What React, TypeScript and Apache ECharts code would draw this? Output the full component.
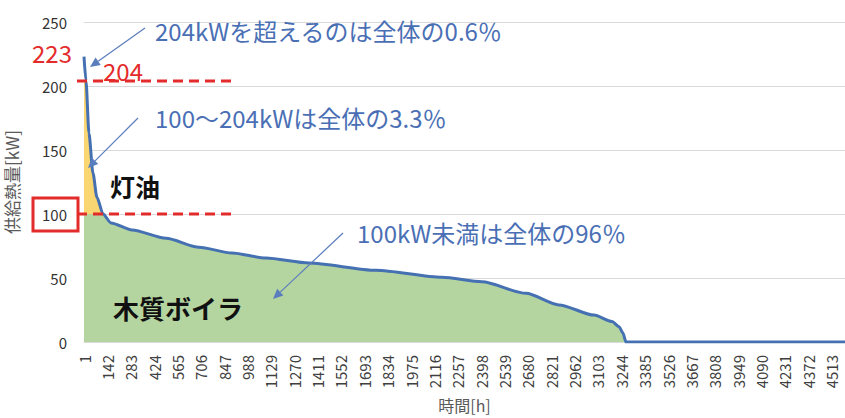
import React, { useEffect, useRef } from 'react';
import * as echarts from 'echarts';

// Load duration curve (hour rank, supplied heat kW)
const hours = [1, 13, 31, 55, 79, 116, 164, 291, 496, 695, 894, 1099, 1359, 1763, 2162, 2403, 2669, 2868, 3079, 3188, 3230, 3254, 3272, 4594];
const kW = [223, 204, 163, 132, 113, 100, 93, 87.5, 81, 74, 69.5, 65.6, 61.7, 56, 50.5, 47, 38, 29, 21, 16, 12, 7, 0, 0];

const xTickLabels = [1, 142, 283, 424, 565, 706, 847, 988, 1129, 1270, 1411, 1552, 1693, 1834, 1975, 2116, 2257, 2398, 2539, 2680, 2821, 2962, 3103, 3244, 3385, 3526, 3667, 3808, 3949, 4090, 4231, 4372, 4513];

const woodLimit = 100;
const kerosenePeak = 204;
const maxPeak = 223;

const FONT = "'Noto Sans CJK JP', 'Noto Sans', sans-serif";
const BLUE_TEXT = '#4a6fb5';
const ARROW = '#5a7dbd';
const RED = '#e32b2b';

function arrow(x1: number, y1: number, x2: number, y2: number) {
  const a = Math.atan2(y2 - y1, x2 - x1);
  const L = 10, W = 4.5;
  const bx = x2 - L * Math.cos(a), by = y2 - L * Math.sin(a);
  return {
    type: 'group',
    silent: true,
    children: [
      { type: 'line', z: 10, shape: { x1, y1, x2: bx, y2: by }, style: { stroke: ARROW, lineWidth: 1.2 } },
      {
        type: 'polygon',
        z: 10,
        shape: {
          points: [
            [x2, y2],
            [bx - W * Math.sin(a), by + W * Math.cos(a)],
            [bx + W * Math.sin(a), by - W * Math.cos(a)],
          ],
        },
        style: { fill: ARROW },
      },
    ],
  };
}

export default function App() {
  const ref = useRef<HTMLDivElement>(null);
  useEffect(() => {
    const chart = echarts.init(ref.current!, null, { renderer: 'svg' });
    const raw = hours.map((h, i) => [h, kW[i]]);
    const green = hours.map((h, i) => [h, Math.min(kW[i], woodLimit)]);
    const yellow = hours.map((h, i) => [h, Math.min(kW[i], kerosenePeak)]);
    const smooth = 0.25;
    chart.setOption({
      animation: false,
      backgroundColor: '#fff',
      textStyle: { fontFamily: FONT },
      grid: { left: 84, right: 0, top: 22, bottom: 76, containLabel: false, outerBoundsMode: 'none' },
      xAxis: {
        type: 'value',
        min: 1,
        max: 4594,
        name: '時間[h]',
        nameLocation: 'middle',
        nameGap: 55,
        nameTextStyle: { fontSize: 16, color: '#595959', fontFamily: FONT },
        axisLine: { show: true, lineStyle: { color: '#d9d9d9', width: 1 } },
        axisTick: { show: false },
        splitLine: { show: false },
        axisLabel: {
          customValues: xTickLabels,
          formatter: (v: number) => String(v),
          rotate: 90,
          margin: 13,
          fontSize: 15,
          color: '#404040',
          fontFamily: FONT,
        },
      },
      yAxis: {
        type: 'value',
        min: 0,
        max: 250,
        interval: 50,
        name: '供給熱量[kW]',
        nameLocation: 'middle',
        nameGap: 64,
        nameTextStyle: { fontSize: 17, color: '#595959', fontFamily: FONT },
        axisLine: { show: false },
        axisTick: { show: false },
        splitLine: { lineStyle: { color: '#d9d9d9', width: 1 } },
        axisLabel: { fontSize: 15, color: '#333', margin: 17, fontFamily: FONT },
      },
      series: [
        {
          name: '灯油',
          type: 'line',
          data: yellow,
          smooth,
          smoothMonotone: 'x',
          showSymbol: false,
          lineStyle: { width: 0 },
          areaStyle: { color: '#f9d672', opacity: 1 },
          z: 1,
        },
        {
          name: '木質ボイラ',
          type: 'line',
          data: green,
          smooth,
          smoothMonotone: 'x',
          showSymbol: false,
          lineStyle: { width: 0 },
          areaStyle: { color: '#b5d5a0', opacity: 1 },
          z: 2,
        },
        {
          name: '供給熱量',
          type: 'line',
          data: raw,
          smooth,
          smoothMonotone: 'x',
          showSymbol: false,
          lineStyle: { width: 3, color: '#4570b2' },
          z: 3,
        },
      ],
    });

    const y204 = (chart.convertToPixel({ gridIndex: 0 }, [1, kerosenePeak]) as number[])[1];
    const y100 = (chart.convertToPixel({ gridIndex: 0 }, [1, woodLimit]) as number[])[1];
    const yPeak = (chart.convertToPixel({ gridIndex: 0 }, [1, maxPeak]) as number[])[1];

    chart.setOption({
      graphic: [
        { type: 'line', silent: true, z: 10, shape: { x1: 77, y1: y204, x2: 236, y2: y204 }, style: { stroke: RED, lineWidth: 3, lineDash: [10, 6] } },
        { type: 'line', silent: true, z: 10, shape: { x1: 77, y1: y100, x2: 236, y2: y100 }, style: { stroke: RED, lineWidth: 3, lineDash: [10, 6] } },
        { type: 'rect', silent: true, z: 10, shape: { x: 33, y: y100 - 16, width: 45, height: 33 }, style: { fill: 'none', stroke: RED, lineWidth: 3 } },
        { type: 'text', silent: true, z: 10, x: 32, y: yPeak - 4, style: { text: String(maxPeak), fill: RED, font: `24px ${FONT}`, verticalAlign: 'middle' } },
        { type: 'text', silent: true, z: 10, x: 103, y: y204 - 10, style: { text: String(kerosenePeak), fill: RED, font: `24px ${FONT}`, verticalAlign: 'middle' } },
        { type: 'text', silent: true, z: 10, x: 155, y: 30, style: { text: '204kWを超えるのは全体の0.6％', fill: BLUE_TEXT, font: `24px ${FONT}`, verticalAlign: 'middle' } },
        { type: 'text', silent: true, z: 10, x: 155, y: 117, style: { text: '100～204kWは全体の3.3％', fill: BLUE_TEXT, font: `24px ${FONT}`, verticalAlign: 'middle' } },
        { type: 'text', silent: true, z: 10, x: 357, y: 232, style: { text: '100kW未満は全体の96％', fill: BLUE_TEXT, font: `24px ${FONT}`, verticalAlign: 'middle' } },
        { type: 'text', silent: true, z: 10, x: 110, y: 186, style: { text: '灯油', fill: '#111', font: `bold 25px ${FONT}`, verticalAlign: 'middle' } },
        { type: 'text', silent: true, z: 10, x: 113, y: 307, style: { text: '木質ボイラ', fill: '#111', font: `bold 26px ${FONT}`, verticalAlign: 'middle' } },
        arrow(145, 28, 90, 67),
        arrow(138, 118, 88, 168),
        arrow(343, 233, 273, 299),
      ],
    });
    return () => chart.dispose();
  }, []);
  return <div ref={ref} style={{ position: 'fixed', left: 0, top: 0, width: 845, height: 418, background: '#fff' }} />;
}
